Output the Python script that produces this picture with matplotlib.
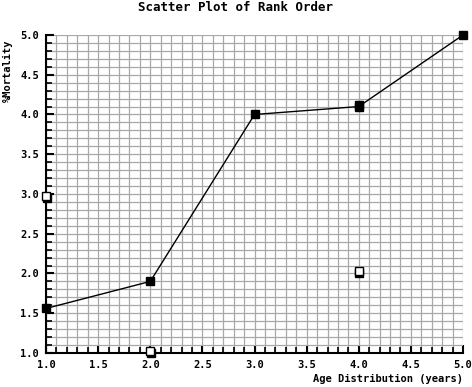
import matplotlib
matplotlib.use("Agg")
import matplotlib.pyplot as plt
import matplotlib.transforms as mtransforms
from matplotlib.ticker import MultipleLocator, FormatStrFormatter

line_x = [1.0, 2.0, 3.0, 4.0, 5.0]
line_y = [1.56, 1.9, 4.0, 4.1, 5.0]
extra_x = [4.0]
extra_y = [4.12]
open_x = [1.0, 2.0, 4.0]
open_y = [2.97, 1.02, 2.03]

title = "Scatter Plot of Rank Order"
xlabel = "Age Distribution (years)"
ylabel = "%Mortality"

fig = plt.figure(figsize=(4.72, 3.87), dpi=100)
ax = fig.add_axes([0.0975, 0.0879, 0.8835, 0.8217])
font = dict(family="DejaVu Sans Mono", weight="bold")

ax.set_xlim(1.0, 5.0)
ax.set_ylim(1.0, 5.0)
ax.xaxis.set_major_locator(MultipleLocator(0.5))
ax.xaxis.set_minor_locator(MultipleLocator(0.1))
ax.yaxis.set_major_locator(MultipleLocator(0.5))
ax.yaxis.set_minor_locator(MultipleLocator(0.1))
ax.xaxis.set_major_formatter(FormatStrFormatter("%.1f"))
ax.yaxis.set_major_formatter(FormatStrFormatter("%.1f"))
ax.grid(True, which="both", color="#a8a8a8", lw=0.9)
ax.set_axisbelow(True)
for s in ["top", "right"]:
    ax.spines[s].set_visible(False)
for s in ["left", "bottom"]:
    ax.spines[s].set_linewidth(1.5)
ax.tick_params(which="major", direction="in", length=6, width=1.5, labelsize=7.5)
ax.tick_params(axis="x", which="major", pad=5)
ax.tick_params(axis="y", which="major", pad=5)
ax.tick_params(which="minor", direction="in", length=4, width=1.2)
for lab in ax.get_xticklabels() + ax.get_yticklabels():
    lab.set_fontfamily("DejaVu Sans Mono")
    lab.set_fontweight("bold")

ax.plot(line_x, line_y, color="black", lw=1.0, marker="s", markersize=6,
        markerfacecolor="black", markeredgecolor="black", clip_on=False, zorder=3)
ax.plot(extra_x, extra_y, ls="none", marker="s", markersize=6, color="black", clip_on=False, zorder=3)
shadow = ax.transData + mtransforms.ScaledTranslation(0.5/72, -1.5/72, fig.dpi_scale_trans)
ax.plot(open_x, open_y, ls="none", marker="s", markersize=6, color="black", clip_on=False, zorder=3,
        transform=shadow)
ax.plot(open_x, open_y, ls="none", marker="s", markersize=5.5, markerfacecolor="white",
        markeredgecolor="black", markeredgewidth=1.0, clip_on=False, zorder=4)

fig.text(0.5, 0.981, title, ha="center", va="center", fontsize=9, **font)
fig.text(0.981, 0.021, xlabel, ha="right", va="center", fontsize=7.5, **font)
fig.text(0.017, 0.817, ylabel, ha="center", va="center", rotation=90, fontsize=7.5, **font)

fig.savefig("out.png", dpi=100)
